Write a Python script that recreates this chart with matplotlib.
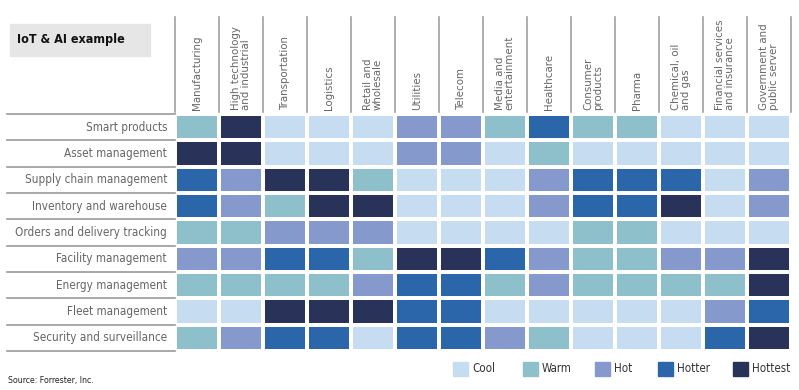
import matplotlib.pyplot as plt
from matplotlib.colors import ListedColormap
from matplotlib.patches import Rectangle
import numpy as np

plt.rcParams['font.family'] = ['DejaVu Sans']
plt.rcParams['font.stretch'] = 'condensed'

industries = ['Manufacturing', 'High technology\nand industrial', 'Transportation', 'Logistics',
              'Retail and\nwholesale', 'Utilities', 'Telecom', 'Media and\nentertainment',
              'Healthcare', 'Consumer\nproducts', 'Pharma', 'Chemical, oil\nand gas',
              'Financial services\nand insurance', 'Government and\npublic server']
use_cases = ['Smart products', 'Asset management', 'Supply chain management',
             'Inventory and warehouse', 'Orders and delivery tracking', 'Facility management',
             'Energy management', 'Fleet management', 'Security and surveillance']
level_names = ['Cool', 'Warm', 'Hot', 'Hotter', 'Hottest']
level_colors = ['#c6ddf1', '#8dc0ca', '#8599cc', '#2a66a9', '#29335a']

# 0=Cool 1=Warm 2=Hot 3=Hotter 4=Hottest
smart_products = [1, 4, 0, 0, 0, 2, 2, 1, 3, 1, 1, 0, 0, 0]
asset_mgmt     = [4, 4, 0, 0, 0, 2, 2, 0, 1, 0, 0, 0, 0, 0]
supply_chain   = [3, 2, 4, 4, 1, 0, 0, 0, 2, 3, 3, 3, 0, 2]
inventory      = [3, 2, 1, 4, 4, 0, 0, 0, 2, 3, 3, 4, 0, 2]
orders         = [1, 1, 2, 2, 2, 0, 0, 0, 0, 1, 1, 0, 0, 0]
facility       = [2, 2, 3, 3, 1, 4, 4, 3, 2, 1, 1, 2, 2, 4]
energy         = [1, 1, 1, 1, 2, 3, 3, 1, 2, 1, 1, 1, 1, 4]
fleet          = [0, 0, 4, 4, 4, 3, 3, 0, 0, 0, 0, 0, 2, 3]
security       = [1, 2, 3, 3, 0, 3, 3, 2, 1, 0, 0, 0, 3, 4]

grid = np.array([smart_products, asset_mgmt, supply_chain, inventory, orders,
                 facility, energy, fleet, security])

W, H = 799, 390
fig = plt.figure(figsize=(W / 100, H / 100), dpi=100)

ax = fig.add_axes([175 / W, 1 - 351 / H, 616 / W, 237 / H])
cmap = ListedColormap(level_colors)
ax.pcolormesh(grid, cmap=cmap, vmin=-0.5, vmax=4.5, edgecolors='white', linewidth=1.5)
ax.set_xlim(0, len(industries))
ax.set_ylim(len(use_cases), 0)
ax.axis('off')

grey = '#666666'
colw = 44.0
rowh = 237 / 9
# row labels and separators
for i, name in enumerate(use_cases):
    ax.text(-8 / colw, i + 0.5, name, ha='right', va='center', fontsize=8.4, color=grey)
for i in range(len(use_cases) + 1):
    ax.plot([-168 / colw, 0], [i, i], color='#9a9a9a', lw=1.2, clip_on=False)

# column headers and vertical separators
for j, name in enumerate(industries):
    ax.text(j + 0.5, -4 / rowh, name, rotation=90, ha='center', va='bottom',
            multialignment='left', fontsize=8.2, color=grey, linespacing=0.95)
for j in range(len(industries) + 1):
    ax.plot([j, j], [-2 / rowh, -97 / rowh], color='#a0a0a0', lw=1.2, clip_on=False)

# title box
fig.patches.append(Rectangle((10 / W, 1 - 56 / H), 140 / W, 32 / H,
                             transform=fig.transFigure, color='#e6e6e6', zorder=0))
fig.text(17 / W, 1 - 39 / H, 'IoT & AI example', fontsize=9, fontweight='bold',
         va='center', ha='left', color='#111111')

# legend
leg_x = [453, 523, 595, 658, 733]
for x, name, c in zip(leg_x, level_names, level_colors):
    fig.patches.append(Rectangle((x / W, 1 - 376 / H), 15 / W, 14 / H,
                                 transform=fig.transFigure, color=c))
    fig.text((x + 19) / W, 1 - 369 / H, name, fontsize=8.3, va='center', ha='left', color='#333333')

fig.text(8 / W, 1 - 380 / H, 'Source: Forrester, Inc.', fontsize=6.3, va='center', ha='left',
         color='#222222')

fig.savefig('out.png', dpi=100)
